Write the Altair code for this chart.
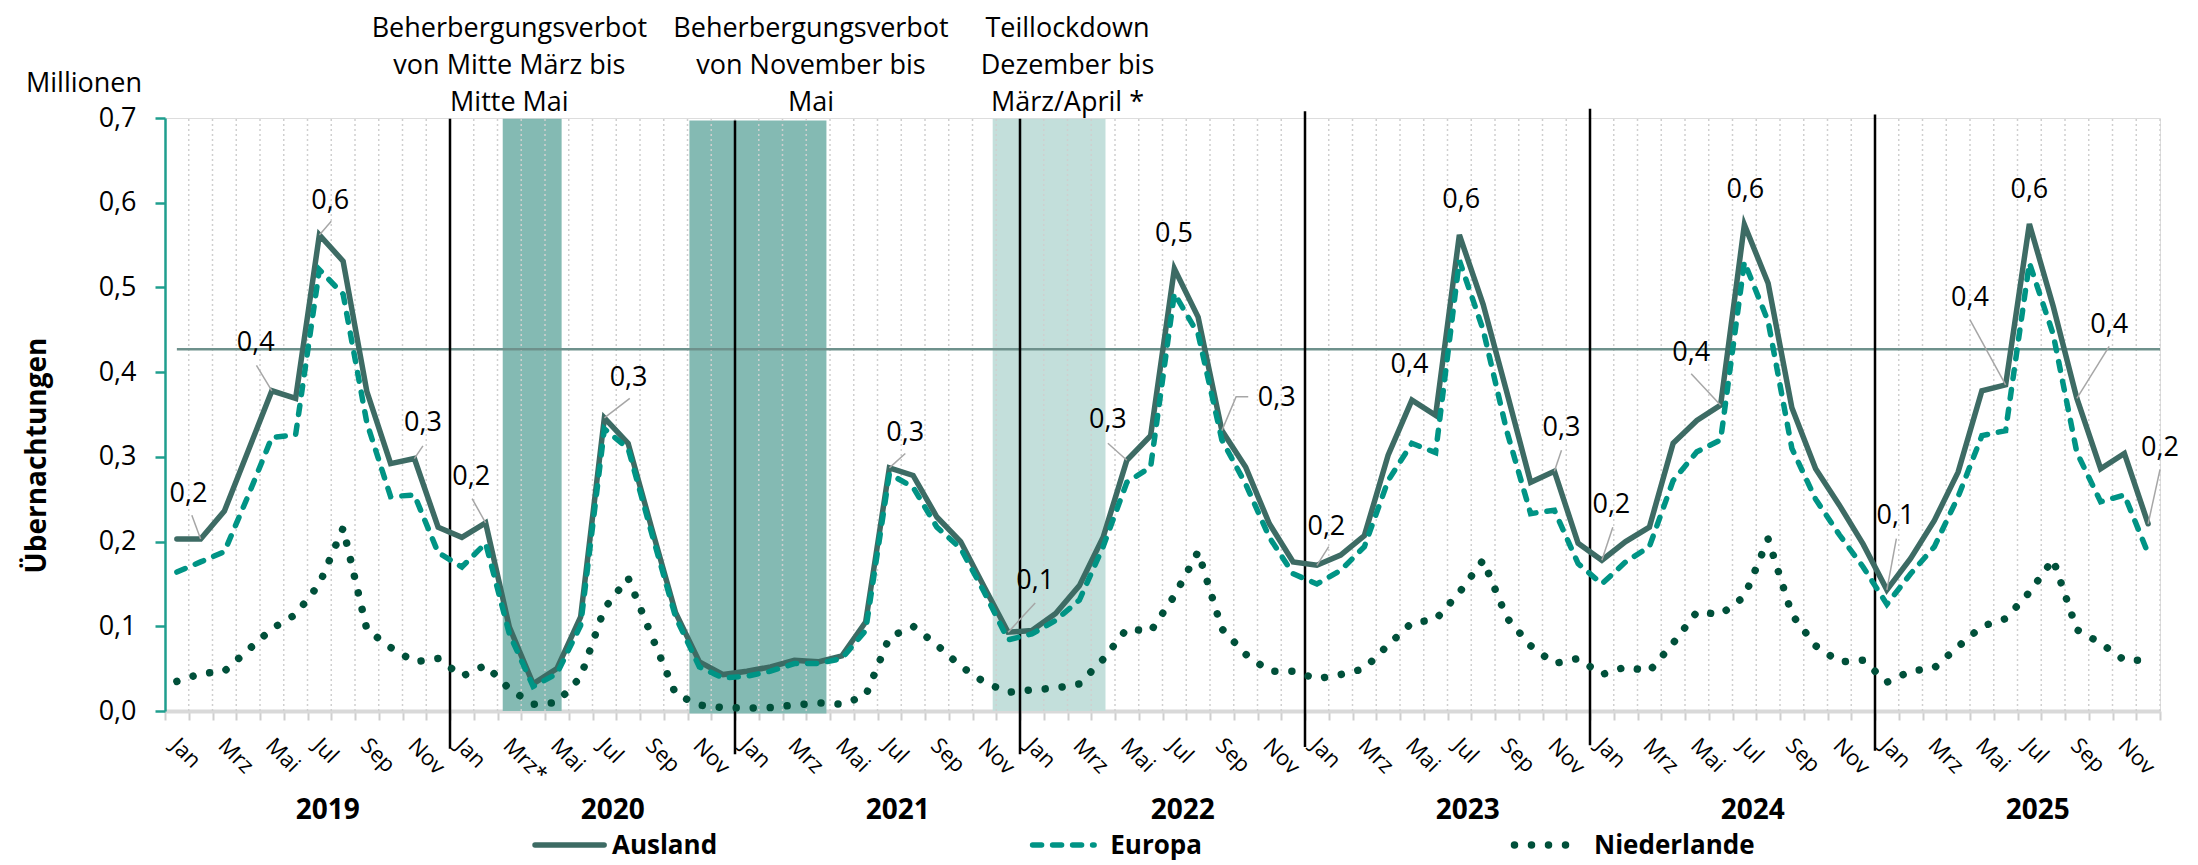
import altair as alt
import pandas as pd

# ---------------- data ----------------
years = [2019, 2020, 2021, 2022, 2023, 2024, 2025]
month_names = ["Jan", "Feb", "Mrz", "Apr", "Mai", "Jun", "Jul", "Aug", "Sep", "Okt", "Nov", "Dez"]
month_label_overrides = {(2020, "Mrz"): "Mrz*"}
series_names = ["Ausland", "Europa", "Niederlande"]

ausland = [
    0.203, 0.203, 0.236, 0.307, 0.378, 0.369, 0.562, 0.531, 0.377, 0.292, 0.298, 0.217,
    0.205, 0.222, 0.099, 0.032, 0.050, 0.111, 0.346, 0.316, 0.215, 0.116, 0.058, 0.043,
    0.047, 0.052, 0.060, 0.058, 0.065, 0.105, 0.287, 0.278, 0.229, 0.200, 0.146, 0.093,
    0.095, 0.115, 0.148, 0.205, 0.296, 0.325, 0.522, 0.465, 0.331, 0.288, 0.221, 0.176,
    0.172, 0.184, 0.207, 0.302, 0.367, 0.349, 0.562, 0.480, 0.376, 0.270, 0.283, 0.198,
    0.178, 0.200, 0.217, 0.316, 0.343, 0.361, 0.574, 0.505, 0.358, 0.286, 0.243, 0.197,
    0.143, 0.180, 0.225, 0.282, 0.378, 0.385, 0.575, 0.478, 0.369, 0.286, 0.304, 0.221,
]
europa = [
    0.164, 0.176, 0.188, 0.254, 0.323, 0.326, 0.521, 0.492, 0.340, 0.253, 0.255, 0.187,
    0.170, 0.198, 0.091, 0.029, 0.044, 0.101, 0.333, 0.310, 0.209, 0.111, 0.052, 0.039,
    0.041, 0.047, 0.056, 0.056, 0.062, 0.095, 0.280, 0.264, 0.217, 0.192, 0.140, 0.084,
    0.091, 0.107, 0.131, 0.194, 0.270, 0.288, 0.493, 0.445, 0.320, 0.268, 0.205, 0.162,
    0.150, 0.166, 0.194, 0.272, 0.316, 0.305, 0.532, 0.450, 0.330, 0.233, 0.237, 0.174,
    0.150, 0.176, 0.194, 0.272, 0.306, 0.320, 0.530, 0.460, 0.310, 0.250, 0.208, 0.170,
    0.126, 0.162, 0.194, 0.253, 0.325, 0.331, 0.529, 0.445, 0.305, 0.247, 0.255, 0.186,
]
niederlande = [
    0.035, 0.044, 0.047, 0.072, 0.097, 0.114, 0.150, 0.216, 0.096, 0.075, 0.058, 0.062,
    0.041, 0.054, 0.026, 0.008, 0.010, 0.040, 0.121, 0.157, 0.088, 0.020, 0.007, 0.004,
    0.0035, 0.004, 0.007, 0.0095, 0.008, 0.018, 0.087, 0.100, 0.078, 0.053, 0.034, 0.022,
    0.025, 0.027, 0.032, 0.061, 0.097, 0.094, 0.136, 0.188, 0.097, 0.067, 0.047, 0.047,
    0.038, 0.043, 0.050, 0.078, 0.104, 0.108, 0.140, 0.178, 0.110, 0.077, 0.056, 0.062,
    0.043, 0.052, 0.047, 0.080, 0.117, 0.114, 0.135, 0.203, 0.114, 0.077, 0.058, 0.060,
    0.034, 0.047, 0.051, 0.076, 0.100, 0.109, 0.140, 0.179, 0.096, 0.080, 0.060, 0.060,
]
reference_value = 0.427

# shaded periods (in month-index units) and their texts
band_start = [13.72, 21.58, 34.35]
band_end = [16.20, 27.35, 39.10]
band_bottom = [0.0, -0.003, 0.0]
band_top = [0.699, 0.697, 0.699]
band_kind = ["Beherbergungsverbot", "Beherbergungsverbot", "Teillockdown"]
annotation_texts = [
    "Beherbergungsverbot\nvon Mitte März bis\nMitte Mai",
    "Beherbergungsverbot\nvon November bis\nMai",
    "Teillockdown\nDezember bis\nMärz/April *",
]
annotation_x = [14.0, 26.7, 37.5]
annotation_baseline_px = [-81, -81, -81]

# year separators
year_line_top = [0.699, 0.697, 0.699, 0.708, 0.711, 0.704]
year_line_bottom = [-0.0445, -0.051, -0.051, -0.0425, -0.0405, -0.047]

# data labels on "Ausland": point index, label centre, leader waypoints
label_specs = [
    (1, 0.49, 0.2565, [(0.63, 0.231)]),
    (4, 3.32, 0.434, [(3.35, 0.408)]),
    (6, 6.46, 0.602, [(6.5, 0.578)]),
    (10, 10.36, 0.340, [(10.36, 0.313)]),
    (13, 12.39, 0.276, [(12.43, 0.2507)]),
    (18, 19.02, 0.3935, [(19.07, 0.369)]),
    (30, 30.67, 0.328, [(30.67, 0.304)]),
    (35, 36.14, 0.154, [(36.14, 0.1275)]),
    (40, 39.2, 0.343, [(39.2, 0.316)]),
    (42, 41.98, 0.5636, []),
    (44, 46.31, 0.369, [(45.11, 0.371), (44.6, 0.371)]),
    (48, 48.4, 0.217, [(48.5, 0.194)]),
    (52, 51.9, 0.409, []),
    (54, 54.08, 0.6037, []),
    (58, 58.3, 0.3337, [(58.3, 0.3077)]),
    (60, 60.4, 0.243, [(60.46, 0.217)]),
    (65, 63.76, 0.423, [(63.76, 0.398)]),
    (66, 66.04, 0.6155, []),
    (72, 72.36, 0.230, [(72.4, 0.2035)]),
    (77, 75.5, 0.487, [(75.5, 0.4616)]),
    (78, 78.0, 0.6155, []),
    (80, 81.36, 0.4557, [(81.36, 0.4305)]),
    (83, 83.5, 0.310, [(83.5, 0.285)]),
]

# ---------------- styling ----------------
FONT = "Open Sans"
W, H = 1995, 593
N = len(ausland)
C_AUS = "#3d6b64"
C_EUR = "#009485"
C_NL = "#00503a"
C_BAND = {"Beherbergungsverbot": "#84bab3", "Teillockdown": "#c3dfdb"}
C_AXIS = "#1f9e8e"

x_scale = alt.Scale(domain=[-0.5, N - 0.5], nice=False, zero=False)
y_scale = alt.Scale(domain=[0, 0.7], nice=False, zero=False)
x_axis = alt.Axis(values=[k - 0.5 for k in range(N + 1)], labels=False, title=None, grid=False,
                  domainColor="#d9d9d9", domainWidth=4, tickColor="#cfcfcf", tickWidth=2, tickSize=9)
y_axis = alt.Axis(values=[round(0.1 * k, 1) for k in range(8)],
                  labelExpr="replace(format(datum.value, '.1f'), '.', ',')",
                  title="Übernachtungen", titleFont=FONT, titleFontSize=28, titleFontWeight="bold",
                  titleColor="black", titleAngle=270, titleX=-128, titleY=337,
                  titleAlign="center", titleBaseline="middle",
                  labelFont=FONT, labelFontSize=27, labelColor="black", labelPadding=19,
                  domainColor=C_AXIS, domainWidth=2.5, tickColor=C_AXIS, tickWidth=2.5, tickSize=10,
                  grid=False)


def X(f):
    return alt.X(f"{f}:Q", scale=x_scale, axis=x_axis)


def Y(f):
    return alt.Y(f"{f}:Q", scale=y_scale, axis=y_axis)


# ---------------- tables ----------------
rows = []
for name, vals in zip(series_names, [ausland, europa, niederlande]):
    for i, v in enumerate(vals):
        rows.append({"serie": name, "i": i, "value": v})
df_series = pd.DataFrame(rows)

df_bands = pd.DataFrame({"x": band_start, "x2": band_end, "y": band_bottom, "y2": band_top, "kind": band_kind})
df_grid = pd.DataFrame({"x": [k + 0.5 for k in range(N)], "y": 0.0, "y2": 0.7})
df_years = pd.DataFrame({"x": [12 * k - 0.5 for k in range(1, len(years))],
                         "y": year_line_top, "y2": year_line_bottom})
df_ref = pd.DataFrame({"x": [0.0], "x2": [N - 0.5], "y": [reference_value]})

month_rows = []
for yi, yr in enumerate(years):
    for m, mn in enumerate(month_names):
        if m % 2 == 0:
            month_rows.append({"i": yi * 12 + m + 0.2, "label": month_label_overrides.get((yr, mn), mn)})
df_months = pd.DataFrame(month_rows)
df_yearlab = pd.DataFrame({"i": [12 * k + 5.5 + 0.85 for k in range(len(years))], "label": [str(y) for y in years]})

lab_rows, lead_rows = [], []
for lid, (pi, lx, ly, path) in enumerate(label_specs):
    v = ausland[pi]
    lab_rows.append({"x": lx, "y": ly, "text": f"{v:.1f}".replace(".", ",")})
    if path:
        pts = path + [(pi, v)]
        for o, (px, py) in enumerate(pts):
            lead_rows.append({"lid": lid, "o": o, "x": px, "y": py})
df_labels = pd.DataFrame(lab_rows)
df_leaders = pd.DataFrame(lead_rows)

df_ann = pd.DataFrame({"x": annotation_x, "text": annotation_texts, "yb": annotation_baseline_px})

legend_x = {"Ausland": (15.08, 17.99, 18.32), "Europa": (36.03, 38.62, 39.3), "Niederlande": (56.32, 58.79, 59.67)}

# ---------------- layers ----------------
bands = alt.Chart(df_bands).mark_rect().encode(
    x=X("x"), x2="x2", y=Y("y"), y2="y2",
    color=alt.Color("kind:N", scale=alt.Scale(domain=list(C_BAND), range=list(C_BAND.values())), legend=None))

grid = alt.Chart(df_grid).mark_rule(color="#cfcfcf", strokeWidth=1.5, strokeDash=[2, 3]).encode(
    x=X("x"), y=Y("y"), y2="y2")

ref = alt.Chart(df_ref).mark_rule(color="#6e918c", strokeWidth=2.5).encode(x=X("x"), x2="x2", y=Y("y"))

year_lines = alt.Chart(df_years).mark_rule(color="black", strokeWidth=2.5).encode(x=X("x"), y=Y("y"), y2="y2")

styles = {
    "Ausland": dict(color=C_AUS, strokeWidth=5.5, strokeCap="round", strokeJoin="miter"),
    "Europa": dict(color=C_EUR, strokeWidth=5.5, strokeDash=[9, 11], strokeCap="round"),
    "Niederlande": dict(color=C_NL, strokeWidth=7.5, strokeDash=[0.01, 17], strokeCap="round"),
}
line_layers = []
legend_layers = []
for name in series_names:
    line_layers.append(
        alt.Chart(df_series[df_series.serie == name]).mark_line(**styles[name]).encode(
            x=X("i"), y=Y("value"), order="i:Q"))
    x0, x1, xt = legend_x[name]
    legend_layers.append(
        alt.Chart(pd.DataFrame({"i": [x0, x1]})).mark_line(**styles[name]).encode(
            x=X("i"), y=alt.value(727)))
    legend_layers.append(
        alt.Chart(pd.DataFrame({"i": [xt], "label": [name]})).mark_text(
            align="left", baseline="alphabetic", font=FONT, fontSize=26, fontWeight="bold", color="black").encode(
            x=X("i"), y=alt.value(736), text="label:N"))

leaders = alt.Chart(df_leaders).mark_line(color="#a6a6a6", strokeWidth=1.5).encode(
    x=X("x"), y=Y("y"), detail="lid:N", order="o:Q")

labels = alt.Chart(df_labels).mark_text(font=FONT, fontSize=27, color="black", align="center",
                                        baseline="middle").encode(x=X("x"), y=Y("y"), text="text:N")

months = alt.Chart(df_months).mark_text(font=FONT, fontSize=22, color="black", angle=45, align="left",
                                        baseline="top").encode(x=X("i"), y=alt.value(617), text="label:N")

year_labels = alt.Chart(df_yearlab).mark_text(font=FONT, fontSize=28, fontWeight="bold", color="black",
                                              align="center", baseline="alphabetic").encode(
    x=X("i"), y=alt.value(701), text="label:N")

ann_layers = []
for k in range(len(df_ann)):
    ann_layers.append(alt.Chart(df_ann.iloc[[k]]).mark_text(
        font=FONT, fontSize=27, color="black", align="center", baseline="alphabetic",
        lineBreak="\n", lineHeight=37).encode(x=X("x"), y=alt.value(int(df_ann.yb.iloc[k])), text="text:N"))

millionen = alt.Chart(pd.DataFrame({"t": ["Millionen"]})).mark_text(
    font=FONT, fontSize=27, color="black", align="left", baseline="alphabetic").encode(
    x=alt.value(-139), y=alt.value(-26), text="t:N")

chart = alt.layer(
    bands, grid, ref, year_lines, *line_layers, leaders, labels, months, year_labels,
    *ann_layers, millionen, *legend_layers
).properties(
    width=W, height=H,
    autosize=alt.AutoSizeParams(type="none"),
    padding={"left": 157, "top": 110, "right": 30, "bottom": 153},
).configure_view(stroke=None).configure(background="white")

chart.save("out.html", embed_options={"renderer": "svg", "actions": False})
